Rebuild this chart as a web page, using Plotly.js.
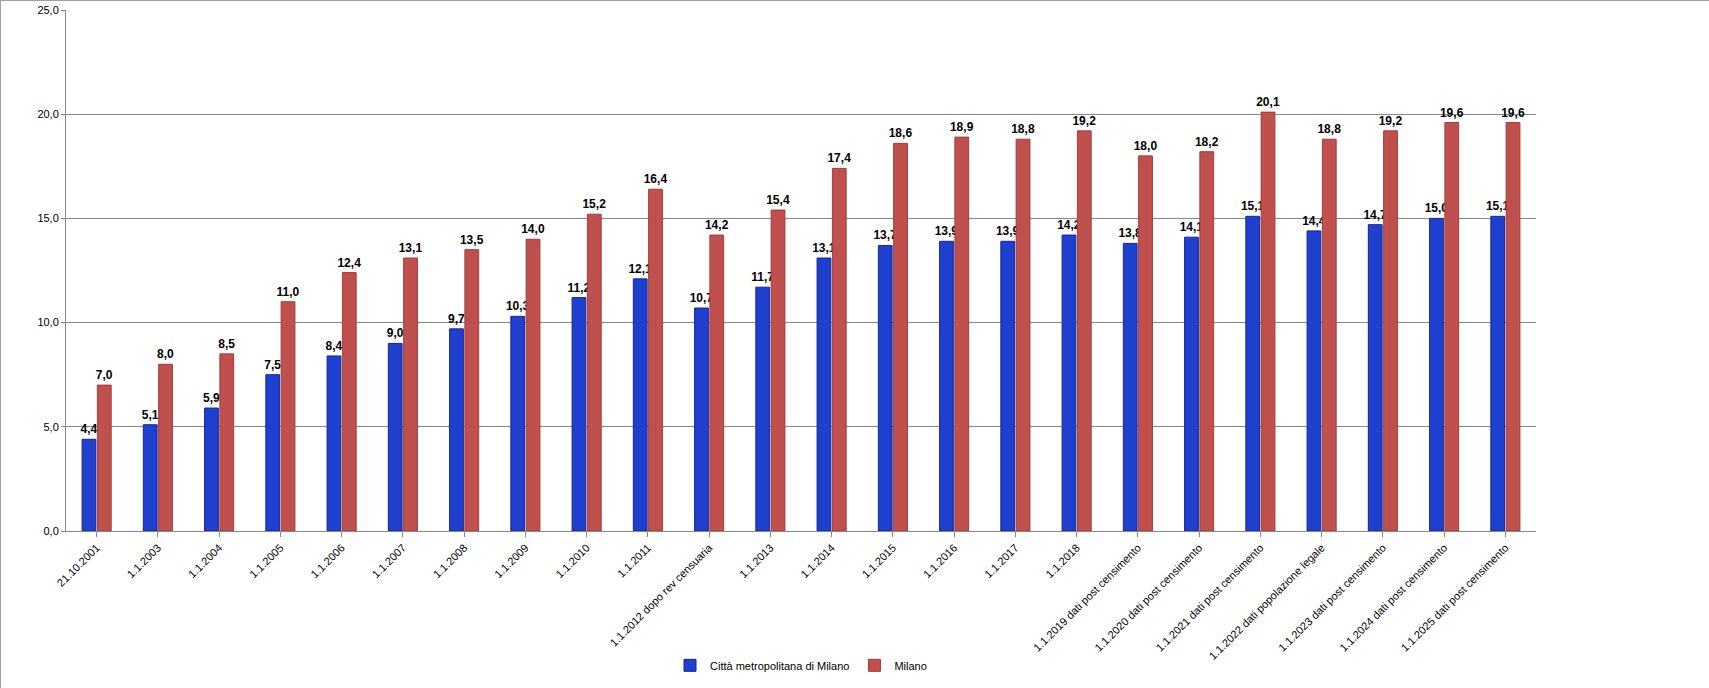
<!DOCTYPE html>
<html>
<head>
<meta charset="utf-8">
<script src="https://cdn.plot.ly/plotly-3.0.1.min.js"></script>
<style>
  html, body { margin: 0; padding: 0; background: #fff; }
  #chart { width: 1709px; height: 688px; box-sizing: border-box; border: 1px solid #a0a0a0; }
</style>
</head>
<body>
<div id="chart"></div>
<script>
'use strict'

const dates = ['21.10.2001', '1.1.2003', '1.1.2004', '1.1.2005', '1.1.2006', '1.1.2007',
  '1.1.2008', '1.1.2009', '1.1.2010', '1.1.2011', '1.1.2012 dopo rev censuaria', '1.1.2013',
  '1.1.2014', '1.1.2015', '1.1.2016', '1.1.2017', '1.1.2018', '1.1.2019 dati post censimento',
  '1.1.2020 dati post censimento', '1.1.2021 dati post censimento', '1.1.2022 dati popolazione legale',
  '1.1.2023 dati post censimento', '1.1.2024 dati post censimento', '1.1.2025 dati post censimento'];
const metroValues = [4.4, 5.1, 5.9, 7.5, 8.4, 9.0, 9.7, 10.3, 11.2, 12.1, 10.7, 11.7,
  13.1, 13.7, 13.9, 13.9, 14.2, 13.8, 14.1, 15.1, 14.4, 14.7, 15.0, 15.1];
const milanoValues = [7.0, 8.0, 8.5, 11.0, 12.4, 13.1, 13.5, 14.0, 15.2, 16.4, 14.2, 15.4,
  17.4, 18.6, 18.9, 18.8, 19.2, 18.0, 18.2, 20.1, 18.8, 19.2, 19.6, 19.6];

const fmt = v => v.toFixed(1).replace('.', ',');

let makeBars = function(name, values, color, edge) {
    return {
        type: 'bar',
        name: name,
        x: dates,
        y: values,
        text: values.map(fmt),
        textposition: 'outside',
        cliponaxis: false,
        textfont: { family: 'Arial, Liberation Sans', size: 12, color: '#000', weight: 'bold' },
        marker: { color: color, line: { color: edge, width: 1 } },
        hoverinfo: 'x+y'
    }
}

const traces = [
    makeBars('Città metropolitana di Milano', metroValues, '#1f3fcf', '#12279a'),
    makeBars('Milano', milanoValues, '#c0504d', '#a03c3a')
];

const layout = {
    width: 1709,
    height: 688,
    margin: { l: 65, r: 174, t: 9, b: 148 },
    paper_bgcolor: '#ffffff',
    plot_bgcolor: '#ffffff',
    font: { family: 'Arial, Liberation Sans', size: 11, color: '#000' },
    separators: ',.',
    barmode: 'group',
    bargap: 0.5,
    bargroupgap: 0.1,
    uniformtext: { minsize: 12, mode: 'show' },
    showlegend: true,
    legend: {
        orientation: 'h',
        x: 0.5, xanchor: 'center',
        y: -0.23, yanchor: 'top',
        font: { size: 11 }
    },
    xaxis: {
        tickangle: -45,
        tickfont: { size: 11 },
        showline: true,
        linecolor: '#888',
        ticks: 'outside',
        ticklen: 5,
        tickcolor: '#888'
    },
    yaxis: {
        range: [0, 25],
        dtick: 5,
        tickformat: '.1f',
        gridcolor: '#888',
        showline: true,
        linecolor: '#888',
        ticks: 'outside',
        ticklen: 4,
        tickcolor: '#888',
        zeroline: false,
        tickfont: { size: 11 }
    }
};

Plotly.newPlot('chart', traces, layout, { displayModeBar: false });
</script>
</body>
</html>
